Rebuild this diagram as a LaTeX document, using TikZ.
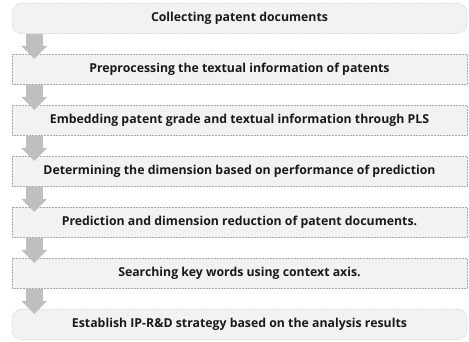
\documentclass[tikz,border=0pt]{standalone}
\usepackage{fontspec}
\setmainfont{Open Sans}
\usetikzlibrary{arrows.meta}
\definecolor{boxfill}{HTML}{F2F2F2}
\definecolor{boxline}{HTML}{ABABAB}
\definecolor{arrowgray}{HTML}{BFBFBF}
\definecolor{txt}{HTML}{1A1A1A}
\tikzset{
  stepbox/.style={draw=boxline, fill=boxfill, densely dotted, line width=0.5pt,
    minimum width=455pt, minimum height=30.5pt, inner sep=0pt,
    text height=9pt, text depth=2.5pt, text=txt,
    font=\fontsize{12.3pt}{14pt}\selectfont\bfseries},
  endbox/.style={stepbox, rounded corners=10pt},
  fatarrow/.style={draw=arrowgray, line width=17pt,
    -{Triangle[width=26pt,length=13pt,line width=0pt]}}
}
\begin{document}
\begin{tikzpicture}[x=1pt,y=-1pt]
\useasboundingbox (0,0) rectangle (469,341);
\node[endbox]  (b1) at (239.5,18.25)  {Collecting patent documents};
\node[stepbox] (b2) at (239.5,69.25)  {Preprocessing the textual information of patents};
\node[stepbox] (b3) at (239.5,120.25) {Embedding patent grade and textual information through PLS};
\node[stepbox] (b4) at (239.5,171.25) {Determining the dimension based on performance of prediction};
\node[stepbox] (b5) at (239.5,222.25) {Prediction and dimension reduction of patent documents.};
\node[stepbox] (b6) at (239.5,273.25) {Searching key words using context axis.};
\node[endbox]  (b7) at (239.5,324.25) {Establish IP-R\&D strategy based on the analysis results};
\foreach \a/\b in {b1/b2,b2/b3,b3/b4,b4/b5,b5/b6,b6/b7}{
  \draw[fatarrow] ([xshift=22.5pt]\a.south west) -- ([xshift=22.5pt,yshift=-5pt]\b.north west);
}
\end{tikzpicture}
\end{document}
